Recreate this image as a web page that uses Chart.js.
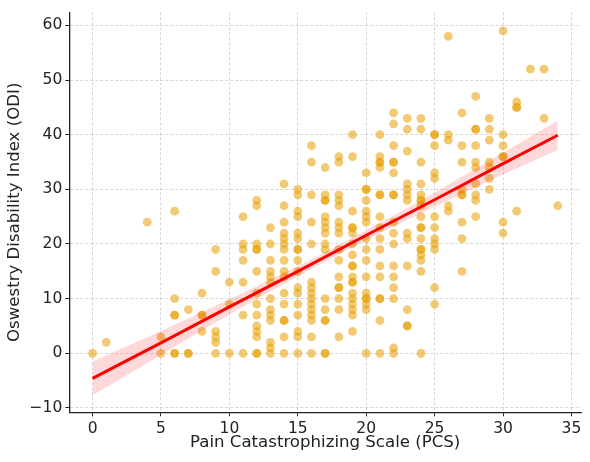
<!DOCTYPE html>
<html>
<head>
<meta charset="utf-8">
<script src="https://cdn.jsdelivr.net/npm/chart.js@4.4.1/dist/chart.umd.min.js"></script>
<style>
  html, body { margin: 0; padding: 0; background: #fff; }
  #wrap { width: 590px; height: 462px; }
</style>
</head>
<body>
<div id="wrap"><canvas id="chart" width="590" height="462"></canvas></div>
<script>
// PCS score levels and the ODI values observed at each level
const pcsLevels = [0, 1, 4, 5, 6, 7, 8, 9, 10, 11, 12, 13, 14, 15, 16, 17, 18, 19, 20, 21, 22, 23, 24, 25, 26, 27, 28, 29, 30, 31, 32, 33, 34];
const odiByLevel = [
  [0],
  [2],
  [24],
  [3, 0],
  [26, 10, 7, 7, 0, 0],
  [8, 0, 0],
  [11, 7, 7, 4],
  [19, 15, 4, 3, 2, 0],
  [13, 9, 0],
  [25, 20, 19, 17, 13, 7, 0],
  [28, 27, 20, 19, 19, 15, 11, 9, 7, 5, 4, 3, 0, 0],
  [23, 20, 17, 15, 14, 13, 10, 8, 7, 6, 2, 1, 0],
  [31, 27, 24, 22, 21, 20, 19, 17, 15, 14, 11, 9, 6, 6, 3, 0],
  [30, 29, 26, 25, 22, 21, 19, 19, 17, 15, 12, 11, 9, 7, 4, 3, 0],
  [38, 35, 29, 24, 20, 13, 12, 11, 10, 9, 8, 7, 6, 3, 0],
  [34, 29, 28, 28, 25, 24, 23, 22, 20, 19, 10, 8, 6, 6, 0, 0],
  [36, 35, 29, 28, 27, 24, 23, 22, 19, 17, 14, 12, 12, 10, 8, 3],
  [40, 36, 26, 23, 23, 22, 20, 18, 16, 16, 14, 13, 13, 11, 10, 9, 8, 7, 4],
  [33, 30, 30, 28, 26, 25, 24, 21, 19, 17, 14, 11, 10, 10, 9, 8, 0],
  [40, 36, 35, 35, 34, 29, 29, 25, 23, 21, 19, 16, 14, 10, 10, 6, 0],
  [44, 42, 38, 35, 35, 33, 29, 29, 24, 22, 20, 16, 14, 12, 10, 1, 0],
  [43, 41, 37, 31, 30, 29, 28, 22, 21, 16, 8, 5, 5],
  [43, 41, 35, 31, 29, 28, 28, 27, 25, 23, 23, 21, 19, 19, 18, 17, 15, 0],
  [40, 40, 38, 33, 32, 25, 23, 21, 20, 19, 12, 9],
  [58, 40, 39, 27, 26],
  [44, 38, 35, 30, 29, 29, 24, 21, 15],
  [47, 41, 41, 38, 35, 34, 31, 29, 28, 25],
  [43, 41, 39, 35, 34, 32, 30],
  [59, 40, 38, 36, 36, 24, 22],
  [46, 45, 45, 26],
  [52],
  [52, 43],
  [27]
];

// regression line and its confidence band
const fitX    = [0, 5, 10, 15, 20, 25, 30, 34];
const fitY    = [-4.6, 1.9, 8.5, 15.0, 21.6, 28.1, 34.7, 39.9];
const fitLow  = [-7.7, -0.3, 7.1, 14.05, 20.7, 26.8, 32.7, 37.2];
const fitHigh = [-1.5, 4.1, 9.9, 15.95, 22.5, 29.4, 36.7, 42.6];

const xTicks = [0, 5, 10, 15, 20, 25, 30, 35];
const yTicks = [-10, 0, 10, 20, 30, 40, 50, 60];

const points = pcsLevels.flatMap((x, i) => odiByLevel[i].map(y => ({ x, y })));
const toXY = ys => fitX.map((x, i) => ({ x, y: ys[i] }));

Chart.defaults.font.family = "'DejaVu Sans', sans-serif";
Chart.defaults.color = "#222";

const ink = "#222";
const gridCol = "rgba(0,0,0,0.2)";
const tickSize = 15.5;
const titleSize = 16.6;

new Chart(document.getElementById("chart"), {
  type: "scatter",
  data: {
    datasets: [
      { type: "line", data: toXY(fitY), borderColor: "#ff0000", borderWidth: 3,
        pointRadius: 0, fill: false, order: 0 },
      { type: "line", data: toXY(fitHigh), borderWidth: 0, pointRadius: 0,
        backgroundColor: "rgba(255,0,0,0.15)", fill: "+1", cubicInterpolationMode: "monotone", order: 1 },
      { type: "line", data: toXY(fitLow), borderWidth: 0, pointRadius: 0,
        fill: false, cubicInterpolationMode: "monotone", order: 1 },
      { data: points, backgroundColor: "rgba(230,159,0,0.55)", borderWidth: 0,
        pointRadius: 4.4, order: 2 }
    ]
  },
  options: {
    responsive: false,
    animation: false,
    devicePixelRatio: 1,
    layout: { padding: { left: 0, right: 9, top: 5, bottom: 0 } },
    plugins: { legend: { display: false }, tooltip: { enabled: false } },
    scales: {
      x: {
        type: "linear", min: -1.7, max: 35.7,
        afterBuildTicks: s => { s.ticks = xTicks.map(v => ({ value: v })); },
        afterFit: s => { s.height = 49.7; },
        grid: { color: gridCol, lineWidth: 0.8, tickColor: ink, tickLength: 4, tickWidth: 1, tickBorderDash: [] },
        border: { display: true, color: ink, width: 1.3, dash: [3, 2] },
        ticks: { font: { size: tickSize }, padding: 3, color: ink, maxRotation: 0 },
        title: { display: true, text: "Pain Catastrophizing Scale (PCS)", color: ink,
                 font: { size: titleSize }, padding: { top: 0, bottom: 9 } }
      },
      y: {
        type: "linear", min: -10.8, max: 62.4,
        afterBuildTicks: s => { s.ticks = yTicks.map(v => ({ value: v })); },
        afterFit: s => { s.width = 69.3; },
        grid: { color: gridCol, lineWidth: 0.8, tickColor: ink, tickLength: 4, tickWidth: 1, tickBorderDash: [] },
        border: { display: true, color: ink, width: 1.3, dash: [3, 2] },
        ticks: { font: { size: tickSize }, padding: 3, color: ink,
                 callback: v => v < 0 ? "\u2212" + Math.abs(v) : String(v) },
        title: { display: true, text: "Oswestry Disability Index (ODI)", color: ink,
                 font: { size: titleSize }, padding: { top: 5, bottom: 0 } }
      }
    }
  }
});
</script>
</body>
</html>
